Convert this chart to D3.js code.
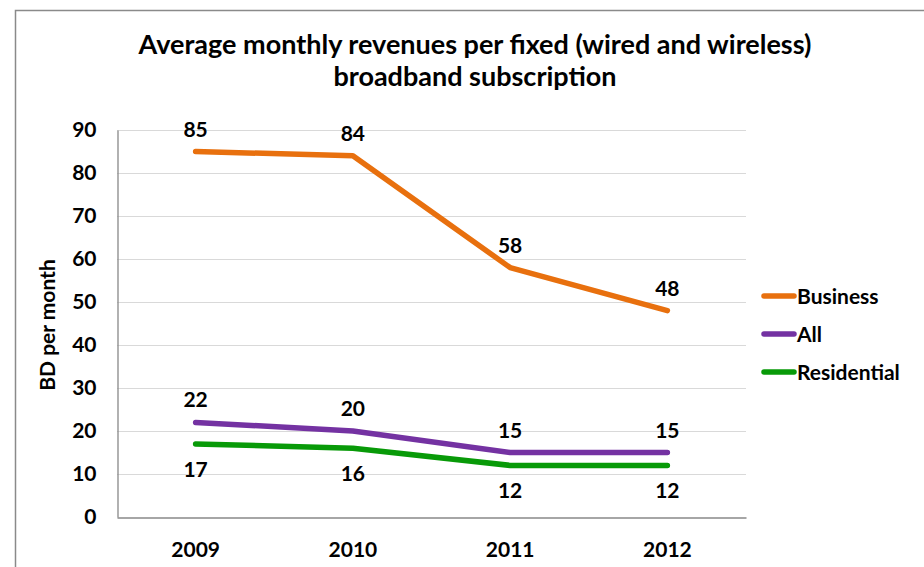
<!DOCTYPE html>
<html>
<head>
<meta charset="utf-8">
<script src="https://cdn.jsdelivr.net/npm/d3@7"></script>
<style>
  html, body { margin: 0; padding: 0; background: #fff; }
  svg { display: block; }
  text { font-family: Lato, "Open Sans", sans-serif; font-weight: bold; fill: #000; }
</style>
</head>
<body>
<svg id="chart" width="924" height="567"></svg>
<script>
// Average monthly revenue per fixed broadband subscription, BD per month
const years = ["2009", "2010", "2011", "2012"];
const business = [85, 84, 58, 48];
const all = [22, 20, 15, 15];
const residential = [17, 16, 12, 12];
const yTicks = [0, 10, 20, 30, 40, 50, 60, 70, 80, 90];

const seriesNames = ["Business", "All", "Residential"];
const seriesColors = ["#E8700E", "#7432A2", "#089A08"];
const seriesValues = [business, all, residential];
const labelSide = ["above", "above", "below"];

const svg = d3.select("#chart");

// outer frame
svg.append("path")
  .attr("d", "M15.5,567 L15.5,10.5 L924,10.5")
  .attr("fill", "none")
  .attr("stroke", "#8a8a8a")
  .attr("stroke-width", 1.5);

// title
const title = svg.append("text")
  .attr("text-anchor", "middle")
  .style("font-size", "27px");
title.append("tspan").attr("x", 475).attr("y", 54)
  .text("Average monthly revenues per fixed (wired and wireless)");
title.append("tspan").attr("x", 475).attr("y", 86)
  .text("broadband subscription");

const plot = { left: 117, right: 746, top: 130, bottom: 517 };

const x = d3.scaleBand().domain(years).range([plot.left, plot.right]);
const y = d3.scaleLinear().domain([0, 90]).range([plot.bottom, plot.top]);

// gridlines
svg.append("g")
  .selectAll("line")
  .data(yTicks.filter(d => d > 0))
  .join("line")
  .attr("x1", plot.left).attr("x2", plot.right)
  .attr("y1", d => y(d) + 0.5).attr("y2", d => y(d) + 0.5)
  .attr("stroke", "#d9d9d9").attr("stroke-width", 1.2);

// y axis
const yAxis = svg.append("g")
  .attr("transform", `translate(${plot.left + 0.5},0)`)
  .call(d3.axisLeft(y).tickValues(yTicks).tickSize(0).tickPadding(21));
yAxis.select(".domain").attr("stroke", "#888").attr("stroke-width", 1.3);
yAxis.selectAll("text").style("font-size", "21px")
  .style("font-family", "Lato, sans-serif").attr("fill", "#000");

// x axis
const xAxis = svg.append("g")
  .attr("transform", `translate(0,${plot.bottom + 0.5})`)
  .call(d3.axisBottom(x).tickSize(0).tickPadding(25));
xAxis.select(".domain").attr("stroke", "#888").attr("stroke-width", 1.3);
xAxis.selectAll("text").style("font-size", "21px")
  .style("font-family", "Lato, sans-serif").attr("fill", "#000");

// y axis title
svg.append("text")
  .attr("transform", "translate(55,325) rotate(-90)")
  .attr("text-anchor", "middle")
  .style("font-size", "21px")
  .text("BD per month");

const cx = d => x(d) + x.bandwidth() / 2;
const line = d3.line().x((d, i) => cx(years[i])).y(d => y(d));

// series lines
svg.append("g")
  .selectAll("path")
  .data(seriesValues)
  .join("path")
  .attr("d", d => line(d))
  .attr("fill", "none")
  .attr("stroke", (d, i) => seriesColors[i])
  .attr("stroke-width", 5.5)
  .attr("stroke-linecap", "round")
  .attr("stroke-linejoin", "round");

// data labels
seriesValues.forEach((vals, s) => {
  svg.append("g")
    .selectAll("text")
    .data(vals)
    .join("text")
    .attr("x", (d, i) => cx(years[i]))
    .attr("y", d => labelSide[s] === "above" ? y(d) - 15 : y(d) + 33)
    .attr("text-anchor", "middle")
    .style("font-size", "21px")
    .text(d => d);
});

// legend
const legend = svg.append("g").attr("transform", "translate(762,296)");
seriesNames.forEach((name, i) => {
  const g = legend.append("g").attr("transform", `translate(0,${i * 38})`);
  g.append("line")
    .attr("x1", 2).attr("x2", 32).attr("y1", 0).attr("y2", 0)
    .attr("stroke", seriesColors[i]).attr("stroke-width", 5.5)
    .attr("stroke-linecap", "round");
  g.append("text")
    .attr("x", 35).attr("y", 8)
    .style("font-size", "21px")
    .text(name);
});
</script>
</body>
</html>
